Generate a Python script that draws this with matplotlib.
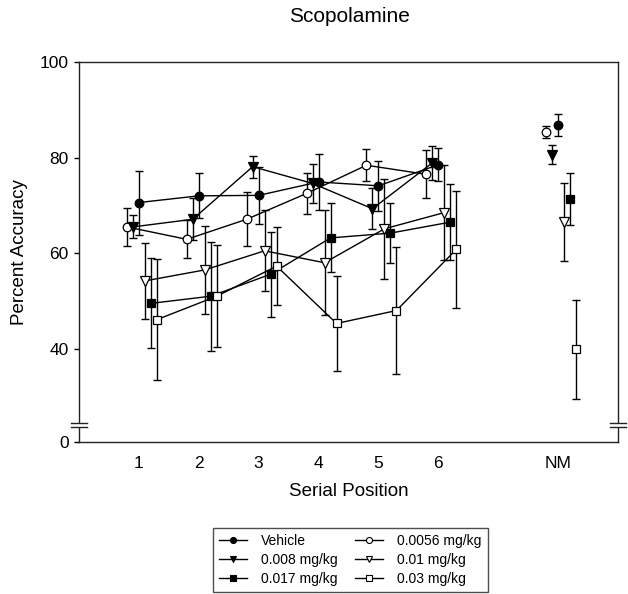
import numpy as np
import matplotlib
matplotlib.use("Agg")
import matplotlib.pyplot as plt
from matplotlib.lines import Line2D
from matplotlib.scale import FuncScale

plt.rcParams['font.family'] = ['Liberation Sans', 'DejaVu Sans']

# ---------------- data ----------------
positions = [1, 2, 3, 4, 5, 6]
nm_position = 8
x_tick_labels = ["1", "2", "3", "4", "5", "6", "NM"]
series_labels = ["Vehicle", "0.0056 mg/kg", "0.008 mg/kg", "0.01 mg/kg", "0.017 mg/kg", "0.03 mg/kg"]

vehicle_mean = [70.6, 72.0, 72.1, 74.9, 74.1, 78.5]
vehicle_sem = [6.7, 4.7, 6.0, 5.9, 5.2, 3.5]
vehicle_nm, vehicle_nm_sem = 86.8, 2.3

d0056_mean = [65.5, 62.9, 67.1, 72.5, 78.4, 76.5]
d0056_sem = [4.0, 4.0, 5.6, 4.3, 3.4, 5.0]
d0056_nm, d0056_nm_sem = 85.3, 1.3

d008_mean = [65.5, 67.1, 78.1, 74.6, 69.3, 78.9]
d008_sem = [2.4, 4.4, 2.3, 4.0, 4.3, 3.6]
d008_nm, d008_nm_sem = 80.6, 2.0

d01_mean = [54.2, 56.5, 60.5, 58.0, 65.1, 68.5]
d01_sem = [7.9, 9.2, 8.5, 11.0, 10.5, 10.0]
d01_nm, d01_nm_sem = 66.5, 8.1

d017_mean = [49.5, 51.0, 55.6, 63.2, 64.2, 66.5]
d017_sem = [9.4, 11.4, 8.9, 7.2, 6.2, 7.9]
d017_nm, d017_nm_sem = 71.3, 5.4

d03_mean = [46.1, 51.0, 57.3, 45.3, 48.0, 60.8]
d03_sem = [12.6, 10.7, 8.2, 10.0, 13.2, 12.3]
d03_nm, d03_nm_sem = 39.9, 10.3

y_ticks = [0, 40, 60, 80, 100]

# ---------------- styling ----------------
offsets = [0.0, -0.2, -0.1, 0.1, 0.2, 0.3]
markers = ['o', 'o', 'v', 'v', 's', 's']
faces = ['black', 'white', 'black', 'white', 'black', 'white']
msizes = [6.2, 6.2, 6.8, 6.8, 5.6, 5.6]

means = [vehicle_mean, d0056_mean, d008_mean, d01_mean, d017_mean, d03_mean]
sems = [vehicle_sem, d0056_sem, d008_sem, d01_sem, d017_sem, d03_sem]
nm_means = [vehicle_nm, d0056_nm, d008_nm, d01_nm, d017_nm, d03_nm]
nm_sems = [vehicle_nm_sem, d0056_nm_sem, d008_nm_sem, d01_nm_sem, d017_nm_sem, d03_nm_sem]

# broken y axis: 0..BREAK compressed into a short segment
BREAK = 24.0
LOW = 20.5


def fwd(y):
    y = np.asarray(y, dtype=float)
    return np.where(y >= BREAK, y, LOW + y * (BREAK - LOW) / BREAK)


def inv(v):
    v = np.asarray(v, dtype=float)
    return np.where(v >= BREAK, v, (v - LOW) * BREAK / (BREAK - LOW))


W, H = 628, 594
fig = plt.figure(figsize=(W / 100, H / 100), dpi=100)
ax = fig.add_axes([79 / W, 1 - 442 / H, 539 / W, 380 / H])
ax.set_yscale(FuncScale(ax, (fwd, inv)))

for i in range(6):
    xs = np.array(positions) + offsets[i]
    ax.errorbar(xs, means[i], yerr=sems[i], fmt='none', ecolor='black',
                elinewidth=1.0, capsize=3.2, capthick=1.0, zorder=2)
    ax.plot(xs, means[i], '-', color='black', lw=1.0, zorder=3)
    ax.plot(xs, means[i], linestyle='none', marker=markers[i], ms=msizes[i],
            mfc=faces[i], mec='black', mew=0.9, zorder=4)
    xn = nm_position + offsets[i]
    ax.errorbar([xn], [nm_means[i]], yerr=[nm_sems[i]], fmt='none', ecolor='black',
                elinewidth=1.0, capsize=3.2, capthick=1.0, zorder=2)
    ax.plot([xn], [nm_means[i]], linestyle='none', marker=markers[i], ms=msizes[i],
            mfc=faces[i], mec='black', mew=0.9, zorder=4)

ax.set_xlim(0, 9)
ax.set_ylim(0, 100)
ax.set_xticks(positions + [nm_position])
ax.set_xticklabels(x_tick_labels)
ax.set_yticks(y_ticks)
ax.set_yticklabels([str(t) for t in y_ticks])
ax.minorticks_off()
ax.tick_params(axis='x', length=0, pad=10, labelsize=12.5)
ax.tick_params(axis='y', length=3.5, width=1.0, direction='out', pad=4, labelsize=12.5)
for s in ax.spines.values():
    s.set_linewidth(1.0)
    s.set_color('#222222')

ax.set_xlabel("Serial Position", fontsize=13.5, labelpad=9)
ax.set_ylabel("Percent Accuracy", fontsize=13.5, labelpad=8)
fig.text(349 / W, 1 - 17 / H, "Scopolamine", ha='center', va='center', fontsize=15)

# break markers on left and right spines
for xa in (0.0, 1.0):
    ax.add_patch(plt.Rectangle((xa - 0.003, 0.0395), 0.006, 0.0105,
                               transform=ax.transAxes, facecolor='white',
                               edgecolor='none', clip_on=False, zorder=10))
    for ya in (0.0395, 0.05):
        ax.add_line(Line2D([xa - 0.015, xa + 0.015], [ya, ya], transform=ax.transAxes,
                           color='#222222', lw=1.0, clip_on=False, zorder=11))

# legend
handles = []
for i in range(6):
    handles.append(Line2D([0], [0], color='black', lw=1.0, marker=markers[i],
                          ms=msizes[i] * 0.7, mfc=faces[i], mec='black', mew=0.8))
order = [0, 2, 4, 1, 3, 5]
leg = fig.legend([handles[k] for k in order], [series_labels[k] for k in order],
                 ncol=2, loc='upper left', bbox_to_anchor=(212.7 / W, 1 - 528.0 / H),
                 borderaxespad=0, fontsize=10, frameon=True, fancybox=False,
                 edgecolor='#222222', handlelength=2.0, handletextpad=1.0,
                 columnspacing=1.3, labelspacing=0.34, borderpad=0.45)
leg.get_frame().set_linewidth(1.0)

fig.savefig("out.png", dpi=100)
